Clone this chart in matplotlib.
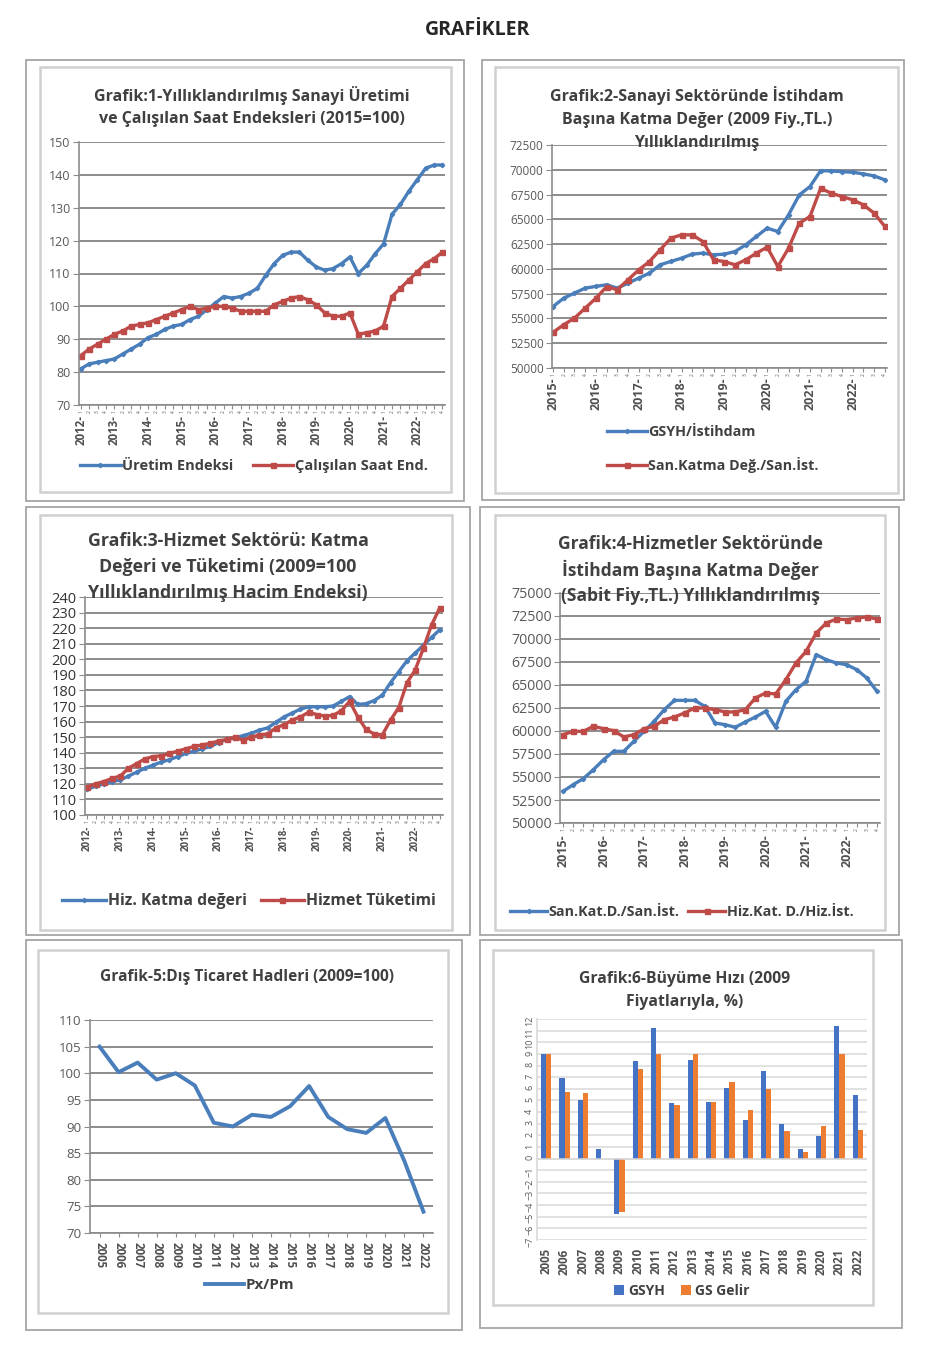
import numpy as np
import matplotlib.pyplot as plt
from matplotlib.patches import Rectangle

plt.rcParams['font.family'] = ['Open Sans', 'DejaVu Sans']

W, H = 928, 1350

# ---------------- data ----------------
years_12 = list(range(2012, 2023))
years_15 = list(range(2015, 2023))

# Grafik 1 (2015=100), quarterly 2012-1 .. 2022-4
uretim = [81, 82.5, 83, 83.5, 84, 85.5, 87, 88.5, 90.5, 91.5, 93, 94,
          94.5, 96, 97, 99, 101, 103, 102.5, 103, 104, 105.5, 109.5, 113,
          115.5, 116.5, 116.5, 114, 112, 111, 111.5, 113, 115, 110, 112.5, 116,
          119, 128, 131, 135, 138.5, 142, 143, 143]
calisilan = [85, 87, 88.5, 90, 91.5, 92.5, 94, 94.5, 95, 96, 97, 98,
             99, 100, 99, 99.5, 100, 100, 99.5, 98.5, 98.5, 98.5, 98.5, 100.5,
             101.5, 102.5, 103, 102, 100.5, 98, 97, 97, 98, 91.5, 92, 92.5,
             94, 103, 105.5, 108, 110.5, 113, 114.5, 116.5]

# Grafik 2, quarterly 2015-1 .. 2022-4
gsyh_ist = [56200, 57050, 57560, 58060, 58230, 58400, 58060, 58560,
            59070, 59570, 60410, 60750, 61080, 61490, 61590, 61420,
            61490, 61750, 62430, 63270, 64110, 63770, 65450, 67460,
            68300, 69910, 69880, 69810, 69750, 69580, 69380, 68980]
san_katma = [53600, 54370, 55030, 56040, 57040, 58200, 57900, 58900,
             59900, 60740, 61920, 63100, 63430, 63430, 62760, 60910,
             60740, 60410, 60910, 61590, 62190, 60240, 62090, 64610,
             65280, 68130, 67630, 67300, 66960, 66460, 65620, 64280]

# Grafik 3 (2009=100), quarterly 2012-1 .. 2022-4
hiz_katma = [116.5, 118.5, 120, 121.5, 122.5, 125, 127.5, 130, 132, 134, 135.5,
             137.5, 139.5, 141, 142.5, 144, 146.5, 148.5, 149.5, 151, 152.5, 154.5,
             156, 159.5, 163, 165.5, 168, 169.5, 169.5, 169.5, 170, 173, 176,
             171, 171.5, 173.5, 177, 185, 192, 199, 204, 209, 214, 219]
hiz_tuketim = [118, 120, 121.5, 123.5, 125, 130, 133, 136, 137.5, 138, 139.5,
               141, 142.5, 144, 145, 146, 147.5, 148.5, 150, 148, 150, 151.5,
               152, 156, 158, 161, 163, 166, 164.5, 163.5, 164, 167, 173,
               163, 155, 152, 151.5, 161, 169, 185, 193, 207, 222, 233]

# Grafik 4, quarterly 2015-1 .. 2022-4
san_kat_ist = [53440, 54170, 54820, 55800, 56880, 57790, 57790, 58880,
               59960, 61050, 62320, 63330, 63330, 63330, 62680, 60870,
               60690, 60400, 60980, 61520, 62140, 60400, 63220, 64490,
               65400, 68300, 67750, 67390, 67210, 66670, 65760, 64310]
hiz_kat_ist = [59600, 59960, 59960, 60510, 60250, 60040, 59350, 59600,
               60250, 60510, 61230, 61520, 61960, 62500, 62500, 62320,
               62070, 62070, 62320, 63590, 64130, 64020, 65580, 67390,
               68660, 70650, 71740, 72170, 72100, 72280, 72390, 72170]

# Grafik 5 and 6, annual 2005 .. 2022
ann_years = list(range(2005, 2023))
px_pm = [105, 100.2, 102, 98.8, 100, 97.7, 90.7, 90, 92.2, 91.8, 93.8, 97.6,
         91.8, 89.5, 88.8, 91.6, 83.5, 74]
gsyh_growth = [9.0, 6.9, 5.0, 0.8, -4.8, 8.4, 11.2, 4.8, 8.5, 4.9, 6.1, 3.3,
               7.5, 3.0, 0.8, 1.9, 11.4, 5.5]
gs_gelir = [9.0, 5.7, 5.6, 0.0, -4.6, 7.7, 9.0, 4.6, 9.0, 4.9, 6.6, 4.2,
            6.0, 2.4, 0.6, 2.8, 9.0, 2.5]

BLUE = '#4A7EBB'
RED = '#BE4B48'
GRID = '#8c8c8c'
TXT = '#404040'

fig = plt.figure(figsize=(W / 100, H / 100), dpi=100)


def fx(x):
    return x / W


def fy(y):
    return 1 - y / H


def px_axes(l, t, r, b):
    return fig.add_axes([fx(l), fy(b), fx(r - l), (b - t) / H])


def frame(l, t, r, b, color, lw):
    fig.add_artist(Rectangle((fx(l), fy(b)), fx(r - l), (b - t) / H,
                             transform=fig.transFigure, fill=False,
                             ec=color, lw=lw))


def title(cx, lines, y0, dy, fs):
    for k, s in enumerate(lines):
        fig.text(fx(cx), fy(y0 + k * dy), s, ha='center', va='center',
                 fontsize=fs, fontweight='bold', color=TXT)


def style(ax, lo, hi, step, fs, color='#595959'):
    ax.set_ylim(lo, hi)
    ax.set_yticks(np.arange(lo, hi + step / 2, step))
    ax.grid(axis='y', color=GRID, lw=1.4)
    ax.set_axisbelow(True)
    for s in ['top', 'right']:
        ax.spines[s].set_visible(False)
    ax.spines['left'].set_color(GRID)
    ax.spines['bottom'].set_color(GRID)
    ax.spines['left'].set_linewidth(1.2)
    ax.spines['bottom'].set_linewidth(1.2)
    ax.tick_params(axis='y', labelsize=fs, labelcolor=color, color=GRID,
                   length=4, pad=2)
    ax.tick_params(axis='x', color=GRID, length=3)
    ax.patch.set_alpha(0)


def quarter_axis(ax, years, fs, off):
    ax.set_xticks(range(len(years) * 4))
    ax.set_xticklabels(['1', '2', '3', '4'] * len(years), rotation=90,
                       fontsize=3.5, color='#595959')
    ax.tick_params(axis='x', pad=1)
    for k, yr in enumerate(years):
        ax.annotate(f'{yr}-', xy=(4 * k, 0),
                    xycoords=('data', 'axes fraction'),
                    xytext=(0, -off), textcoords='offset points',
                    rotation=90, ha='center', va='top', fontsize=fs,
                    fontweight='bold', color='#505050')


def two_lines(ax, a, b, la, lb):
    x = np.arange(len(a))
    ax.plot(x, a, color=BLUE, lw=2.4, marker='D', ms=2.2, label=la)
    ax.plot(x, b, color=RED, lw=2.4, marker='s', ms=3.6, label=lb)


def leg(ax, x, y, fs, ncol=2, hl=3.0, **kw):
    h, l = ax.get_legend_handles_labels()
    lg = fig.legend(h, l, loc='center left', bbox_to_anchor=(fx(x), fy(y)),
                    ncol=ncol, frameon=False, handlelength=hl,
                    handletextpad=0.1, borderaxespad=0, borderpad=0,
                    prop={'size': fs, 'weight': 'bold'}, **kw)
    for t in lg.get_texts():
        t.set_color(TXT)
    return lg


fig.text(fx(478), fy(30), 'GRAFİKLER', ha='center', va='center',
         fontsize=14, fontweight='bold', color='#262626')

# frames
for box in [(26, 60, 464, 501), (482, 60, 904, 500), (26, 507, 470, 935),
            (480, 507, 899, 935), (26, 940, 462, 1330), (480, 940, 902, 1328)]:
    frame(*box, '#a6a6a6', 1.3)
for box in [(40, 67, 451, 492), (495, 67, 898, 493), (40, 515, 452, 930),
            (495, 515, 885, 930), (38, 950, 448, 1313), (493, 950, 873, 1305)]:
    frame(*box, '#d0d0d0', 1.8)

# ---------- Grafik 1 ----------
ax1 = px_axes(79, 142, 445, 405)
two_lines(ax1, uretim, calisilan, 'Üretim Endeksi', 'Çalışılan Saat End.')
style(ax1, 70, 150, 10, 9)
ax1.set_xlim(-0.2, 43.3)
quarter_axis(ax1, years_12, 8.3, 7)
title(252, ['Grafik:1-Yıllıklandırılmış Sanayi Üretimi',
            've Çalışılan Saat Endeksleri (2015=100)'], 96, 23, 11.5)
leg(ax1, 80, 466, 10.5, columnspacing=1.3, hl=2.8)

# ---------- Grafik 2 ----------
ax2 = px_axes(552, 145, 887, 368)
two_lines(ax2, gsyh_ist, san_katma, 'GSYH/İstihdam', 'San.Katma Değ./San.İst.')
style(ax2, 50000, 72500, 2500, 8.5)
ax2.set_xlim(-0.1, 31.2)
quarter_axis(ax2, years_15, 9, 7)
title(697, ['Grafik:2-Sanayi Sektöründe İstihdam',
            'Başına Katma Değer (2009 Fiy.,TL.)',
            'Yıllıklandırılmış'], 96, 23.5, 11.5)
leg(ax2, 607, 449, 10.3, ncol=1, labelspacing=1.3, hl=2.8)

# ---------- Grafik 3 ----------
ax3 = px_axes(85, 597, 443, 815)
two_lines(ax3, hiz_katma, hiz_tuketim, 'Hiz. Katma değeri', 'Hizmet Tüketimi')
style(ax3, 100, 240, 10, 10.5, color='#333333')
ax3.set_xlim(-0.3, 43.4)
quarter_axis(ax3, years_12, 7, 8)
title(228, ['Grafik:3-Hizmet Sektörü: Katma',
            'Değeri ve Tüketimi (2009=100',
            'Yıllıklandırılmış Hacim Endeksi)'], 541, 26, 12.8)
leg(ax3, 62, 901, 11.3, columnspacing=0.9, hl=2.8)

# ---------- Grafik 4 ----------
ax4 = px_axes(560, 593, 880, 823)
two_lines(ax4, san_kat_ist, hiz_kat_ist, 'San.Kat.D./San.İst.', 'Hiz.Kat. D./Hiz.İst.')
style(ax4, 50000, 75000, 2500, 10.2)
ax4.set_xlim(-0.3, 31.3)
quarter_axis(ax4, years_15, 9, 8)
title(690, ['Grafik:4-Hizmetler Sektöründe',
            'İstihdam Başına Katma Değer',
            '(Sabit Fiy.,TL.) Yıllıklandırılmış'], 544, 26, 12.5)
leg(ax4, 510, 912, 10.3, columnspacing=0.6, hl=2.6)

# ---------- Grafik 5 ----------
ax5 = px_axes(90, 1020, 433, 1233)
ax5.plot(np.arange(len(px_pm)), px_pm, color=BLUE, lw=2.8, label='Px/Pm')
style(ax5, 70, 110, 5, 9.5)
ax5.set_xlim(-0.5, 17.5)
ax5.set_xticks(range(len(ann_years)))
ax5.set_xticklabels([str(y) for y in ann_years], rotation=270, fontsize=8.3,
                    fontweight='bold', color='#505050')
title(247, ['Grafik-5:Dış Ticaret Hadleri (2009=100)'], 977, 0, 11.2)
leg(ax5, 205, 1285, 10.8, hl=2.6)

# ---------- Grafik 6 ----------
ax6 = px_axes(537, 1019, 867, 1240)
x6 = np.arange(len(ann_years))
ax6.bar(x6 - 0.14, gsyh_growth, width=0.28, color='#4472C4', label='GSYH')
ax6.bar(x6 + 0.14, gs_gelir, width=0.28, color='#ED7D31', label='GS Gelir')
style(ax6, -7, 12, 1, 6.5)
ax6.grid(axis='y', color='#d9d9d9', lw=1.1)
ax6.spines['left'].set_color('#d9d9d9')
ax6.spines['bottom'].set_visible(False)
ax6.axhline(0, color='#d9d9d9', lw=1.1)
ax6.tick_params(axis='y', length=0, labelrotation=90)
ax6.set_xlim(-0.5, 17.5)
ax6.set_xticks(x6)
ax6.set_xticklabels([str(y) for y in ann_years], rotation=90, fontsize=8.3,
                    fontweight='bold', color='#505050')
ax6.tick_params(axis='x', length=0, pad=6)
title(685, ['Grafik:6-Büyüme Hızı (2009', 'Fiyatlarıyla, %)'], 979, 23, 11.3)
h6, l6 = ax6.get_legend_handles_labels()
lg6 = fig.legend(h6, l6, loc='center left', bbox_to_anchor=(fx(614), fy(1291)),
                 ncol=2, frameon=False, handlelength=0.7, handleheight=0.7,
                 handletextpad=0.3, columnspacing=1.2, borderpad=0,
                 borderaxespad=0, prop={'size': 10, 'weight': 'bold'})
for t in lg6.get_texts():
    t.set_color(TXT)

fig.savefig('out.png', dpi=100)
